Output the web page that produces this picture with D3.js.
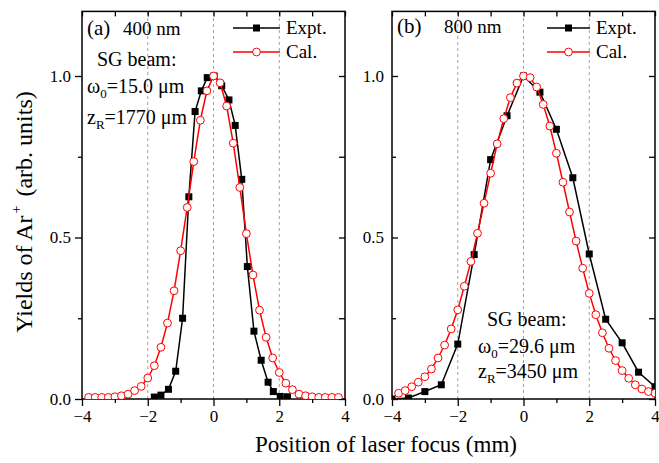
<!DOCTYPE html>
<html>
<head>
<meta charset="utf-8">
<script src="https://cdn.jsdelivr.net/npm/d3@7/dist/d3.min.js"></script>
<style>
  html, body { margin: 0; padding: 0; background: #fff; }
  svg { display: block; font-family: "Liberation Serif", "Times New Roman", serif; }
  svg text { font-family: "Liberation Serif", "Times New Roman", serif; }
</style>
</head>
<body>
<svg id="chart" width="659" height="463"></svg>
<script>
// ---------- data ----------
const xMajorTicks = [-4, -2, 0, 2, 4];
const xMinorTicks = [-3, -1, 1, 3];
const yMajorTicks = [0, 0.5, 1.0];
const yMinorTicks = [0.25, 0.75];
const gridX = [-2, 0, 2];

// Panel (a) 400 nm
const exptA_x = [-1.8, -1.6, -1.37, -1.15, -0.94, -0.75, -0.56, -0.37, -0.19, 0.02, 0.25, 0.47, 0.66, 0.86, 1.03, 1.23, 1.45, 1.66, 1.82, 2.03, 2.25];
const exptA_y = [0.006, 0.012, 0.03, 0.086, 0.25, 0.626, 0.89, 0.954, 0.995, 1.0, 0.97, 0.926, 0.847, 0.68, 0.41, 0.21, 0.12, 0.052, 0.023, 0.008, 0.007];
const calA_x = [-3.8, -3.6, -3.4, -3.2, -3.0, -2.8, -2.6, -2.4, -2.2, -2.0, -1.8, -1.6, -1.4, -1.2, -1.0, -0.8, -0.6, -0.4, -0.2, 0,
                0.2, 0.4, 0.6, 0.8, 1.0, 1.2, 1.4, 1.6, 1.8, 2.0, 2.2, 2.4, 2.6, 2.8, 3.0, 3.2, 3.4, 3.6, 3.8];
const calA_y = [0.005, 0.005, 0.005, 0.005, 0.007, 0.01, 0.015, 0.026, 0.039, 0.065, 0.103, 0.16, 0.235, 0.335, 0.459, 0.593, 0.735, 0.863, 0.954, 1.0,
                0.979, 0.907, 0.792, 0.655, 0.512, 0.384, 0.275, 0.191, 0.127, 0.082, 0.049, 0.029, 0.015, 0.01, 0.007, 0.005, 0.005, 0.005, 0.005];

// Panel (b) 800 nm
const exptB_x = [-4, -3.5, -3, -2.5, -2, -1.5, -1, -0.5, 0, 0.5, 1, 1.5, 2, 2.5, 3, 3.5, 4];
const exptB_y = [0.0, 0.003, 0.023, 0.044, 0.17, 0.447, 0.741, 0.877, 1.0, 0.95, 0.835, 0.685, 0.449, 0.247, 0.174, 0.083, 0.038];
const calB_x = [-3.8, -3.6, -3.4, -3.2, -3.0, -2.8, -2.6, -2.4, -2.2, -2.0, -1.8, -1.6, -1.4, -1.2, -1.0, -0.8, -0.6, -0.4, -0.2, 0,
                0.2, 0.4, 0.6, 0.8, 1.0, 1.2, 1.4, 1.6, 1.8, 2.0, 2.2, 2.4, 2.6, 2.8, 3.0, 3.2, 3.4, 3.6, 3.8, 4.0];
const calB_y = [0.018, 0.026, 0.038, 0.052, 0.069, 0.093, 0.127, 0.167, 0.217, 0.276, 0.349, 0.426, 0.513, 0.606, 0.699, 0.79, 0.868, 0.933, 0.978, 1.0,
                0.995, 0.966, 0.912, 0.845, 0.761, 0.671, 0.579, 0.489, 0.405, 0.327, 0.261, 0.205, 0.157, 0.119, 0.088, 0.064, 0.044, 0.031, 0.023, 0.018];

const legendLabels = ["Expt.", "Cal."];
const xTitle = "Position of laser focus (mm)";

// ---------- drawing ----------
const FONT = "'Liberation Serif', 'Times New Roman', serif";
const svg = d3.select("#chart");
const plotTop = 11.4, plotBottom = 399;
const y = d3.scaleLinear().domain([0, 1.2]).range([plotBottom, plotTop]);

const panels = [
  { id: "a", x: d3.scaleLinear().domain([-4, 4]).range([82, 345]),
    ex: exptA_x, ey: exptA_y, cx: calA_x, cy: calA_y, leftOut: true,
    label: "(a)", labelX: 87, wl: "400 nm", wlX: 123, labelY: 35,
    legX: 233, legW: 47,
    notes: { sgX: 97, sgY: 66, wX: 87, wY: 93, zX: 87, zY: 124, w: "=15.0 \u03bcm", z: "=1770 \u03bcm" } },
  { id: "b", x: d3.scaleLinear().domain([-4, 4]).range([392, 655]),
    ex: exptB_x, ey: exptB_y, cx: calB_x, cy: calB_y, leftOut: false,
    label: "(b)", labelX: 397, wl: "800 nm", wlX: 444, labelY: 33,
    legX: 547, legW: 43,
    notes: { sgX: 487, sgY: 326, wX: 478, wY: 353, zX: 478, zY: 378, w: "=29.6 \u03bcm", z: "=3450 \u03bcm" } }
];

function styleAxis(g, fs) {
  g.attr("font-family", FONT).attr("font-size", fs);
  g.select(".domain").remove();
  g.selectAll(".tick line").attr("stroke", "#000").attr("stroke-width", 1.3);
  g.selectAll(".tick text").attr("fill", "#000").style("font-size", fs + "px").style("font-family", FONT);
}

panels.forEach(p => {
  const x = p.x;
  const [x0, x1] = x.range();
  const g = svg.append("g");

  svg.append("clipPath").attr("id", "clip" + p.id)
    .append("rect").attr("x", x0).attr("y", plotTop).attr("width", x1 - x0).attr("height", plotBottom - plotTop);

  // dashed grid lines
  g.selectAll(".grid").data(gridX).join("line")
    .attr("x1", d => x(d)).attr("x2", d => x(d))
    .attr("y1", plotBottom).attr("y2", plotTop)
    .attr("stroke", "#a0a0a0").attr("stroke-width", 1).attr("stroke-dasharray", "3,3");

  // bottom axis
  g.append("g").attr("transform", `translate(0,${plotBottom})`)
    .call(d3.axisBottom(x).tickValues(xMajorTicks).tickSize(7).tickPadding(4).tickFormat(d3.format("d")))
    .call(a => styleAxis(a, 17));
  g.append("g").attr("transform", `translate(0,${plotBottom})`)
    .call(d3.axisBottom(x).tickValues(xMinorTicks).tickSize(4).tickFormat(""))
    .call(a => styleAxis(a, 17));
  // top axis (ticks inward)
  g.append("g").attr("transform", `translate(0,${plotTop})`)
    .call(d3.axisBottom(x).tickValues(xMajorTicks.concat(xMinorTicks)).tickSize(5).tickFormat(""))
    .call(a => styleAxis(a, 17));

  // left axis
  const ls = p.leftOut ? 7 : -6;
  const lm = p.leftOut ? 4 : -4;
  g.append("g").attr("transform", `translate(${x0},0)`)
    .call(d3.axisLeft(y).tickValues(yMajorTicks).tickSize(ls).tickPadding(p.leftOut ? 4 : 8).tickFormat(d3.format(".1f")))
    .call(a => styleAxis(a, 17));
  g.append("g").attr("transform", `translate(${x0},0)`)
    .call(d3.axisLeft(y).tickValues(yMinorTicks).tickSize(lm).tickFormat(""))
    .call(a => styleAxis(a, 17));
  // right axis (ticks inward)
  g.append("g").attr("transform", `translate(${x1},0)`)
    .call(d3.axisLeft(y).tickValues(yMajorTicks.concat(yMinorTicks)).tickSize(6).tickFormat(""))
    .call(a => styleAxis(a, 17));

  // frame
  g.append("rect").attr("x", x0).attr("y", plotTop).attr("width", x1 - x0).attr("height", plotBottom - plotTop)
    .attr("fill", "none").attr("stroke", "#000").attr("stroke-width", 1.5);

  // data
  const dg = g.append("g").attr("clip-path", `url(#clip${p.id})`);
  const line = d3.line().x(d => x(d[0])).y(d => y(d[1]));
  const eData = p.ex.map((v, i) => [v, p.ey[i]]);
  const cData = p.cx.map((v, i) => [v, p.cy[i]]);

  dg.append("path").datum(eData).attr("d", line)
    .attr("fill", "none").attr("stroke", "#000").attr("stroke-width", 1.5);
  dg.selectAll(".sq").data(eData).join("rect")
    .attr("x", d => x(d[0]) - 3.5).attr("y", d => y(d[1]) - 3.5)
    .attr("width", 7).attr("height", 7).attr("fill", "#000");

  dg.append("path").datum(cData).attr("d", line)
    .attr("fill", "none").attr("stroke", "#ff0000").attr("stroke-width", 1.5);
  dg.selectAll(".ci").data(cData).join("circle")
    .attr("cx", d => x(d[0])).attr("cy", d => y(d[1])).attr("r", 3.9)
    .attr("fill", "#fff").attr("stroke", "#ff0000").attr("stroke-width", 1);

  // panel labels
  g.append("text").attr("x", p.labelX).attr("y", p.labelY).style("font-size", "21px").text(p.label);
  g.append("text").attr("x", p.wlX).attr("y", p.labelY).style("font-size", "19px").text(p.wl);

  // legend
  const legY = [28, 52];
  const lx0 = p.legX, lx1 = p.legX + p.legW, lxm = (lx0 + lx1) / 2;
  g.append("line").attr("x1", lx0).attr("x2", lx1).attr("y1", legY[0]).attr("y2", legY[0])
    .attr("stroke", "#000").attr("stroke-width", 1.5);
  g.append("rect").attr("x", lxm - 3.5).attr("y", legY[0] - 3.5).attr("width", 7).attr("height", 7).attr("fill", "#000");
  g.append("line").attr("x1", lx0).attr("x2", lx1).attr("y1", legY[1]).attr("y2", legY[1])
    .attr("stroke", "#ff0000").attr("stroke-width", 1.5);
  g.append("circle").attr("cx", lxm).attr("cy", legY[1]).attr("r", 3.9)
    .attr("fill", "#fff").attr("stroke", "#ff0000").attr("stroke-width", 1);
  legendLabels.forEach((t, i) => {
    g.append("text").attr("x", lx1 + 6).attr("y", legY[i] + 6).style("font-size", "19px").text(t);
  });

  // annotations
  const n = p.notes;
  g.append("text").attr("x", n.sgX).attr("y", n.sgY).style("font-size", "20px").text("SG beam:");
  const tw = g.append("text").attr("x", n.wX).attr("y", n.wY).style("font-size", "20px");
  tw.append("tspan").text("\u03c9");
  tw.append("tspan").attr("dy", 5).style("font-size", "13px").text("0");
  tw.append("tspan").attr("dy", -5).text(n.w);
  const tz = g.append("text").attr("x", n.zX).attr("y", n.zY).style("font-size", "20px");
  tz.append("tspan").text("z");
  tz.append("tspan").attr("dy", 5).style("font-size", "13px").text("R");
  tz.append("tspan").attr("dy", -5).text(n.z);
});

// axis titles
svg.append("text").attr("x", 386).attr("y", 452).attr("text-anchor", "middle")
  .style("font-size", "23px").text(xTitle);

const yt = svg.append("text").attr("transform", "translate(32,212) rotate(-90)")
  .attr("text-anchor", "middle").style("font-size", "24px");
yt.append("tspan").text("Yields of Ar");
yt.append("tspan").attr("dy", -11).attr("dx", 2).style("font-size", "14px").text("+");
yt.append("tspan").attr("dy", 11).attr("dx", 3).text(" (arb. units)");
</script>
</body>
</html>
